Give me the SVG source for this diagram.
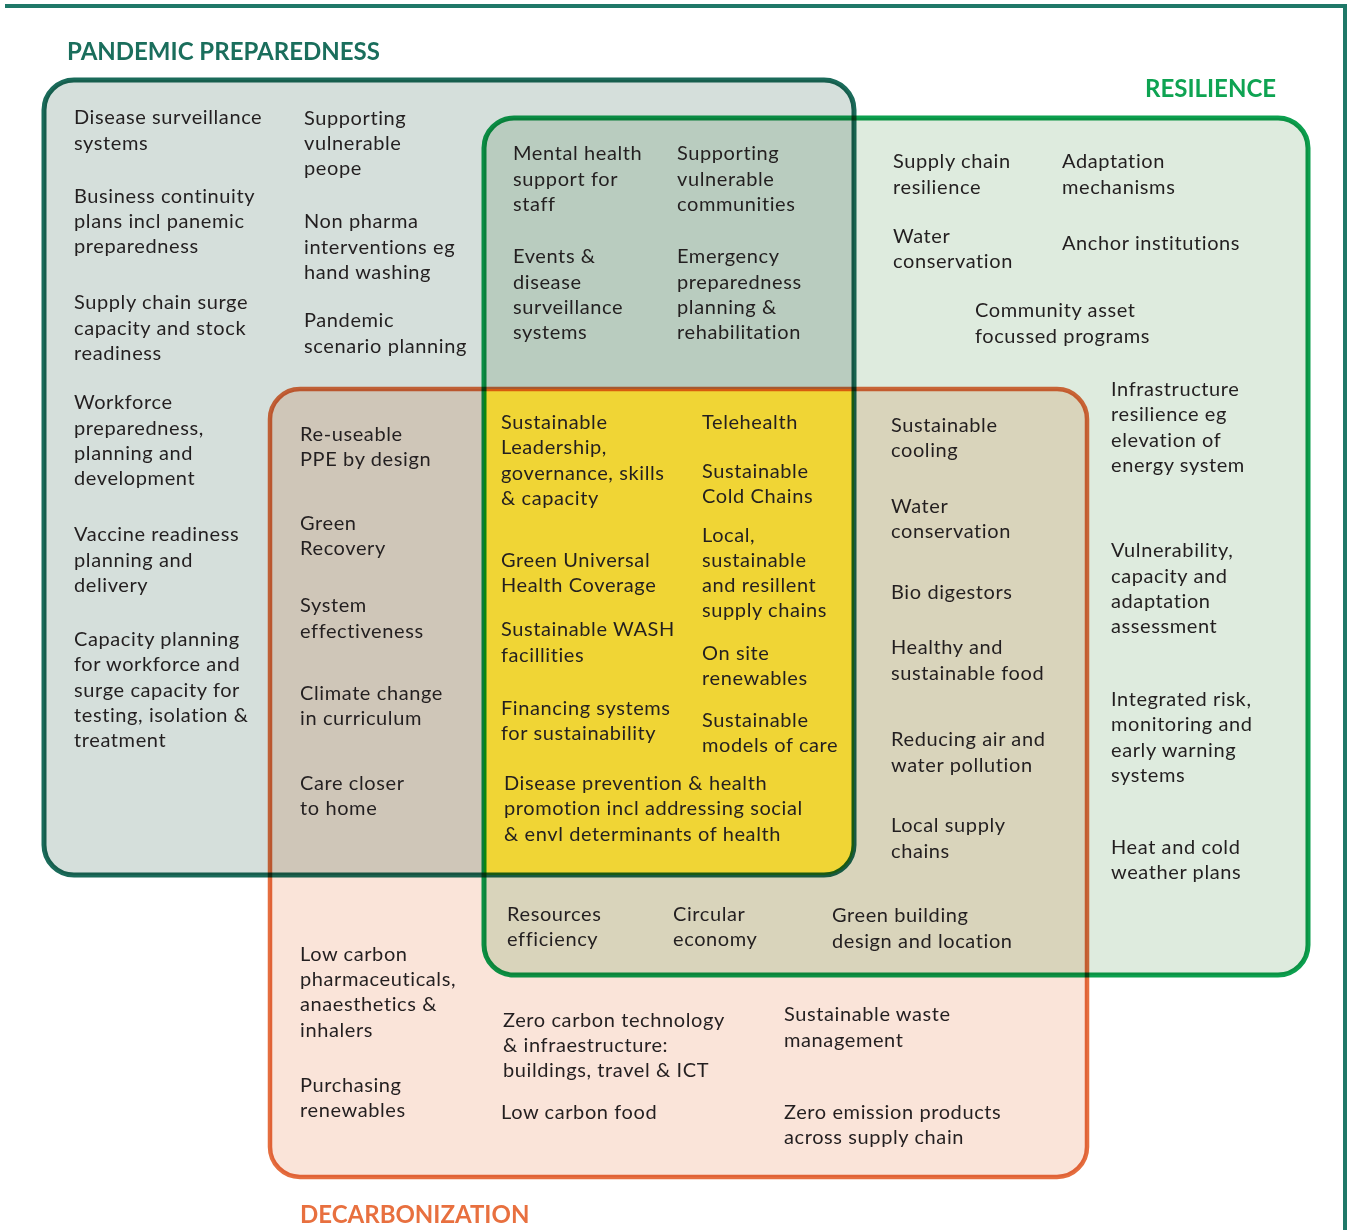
<svg xmlns="http://www.w3.org/2000/svg" width="1348" height="1230" viewBox="0 0 1348 1230">
<style>
.t{font-family:Lato,"Liberation Sans",sans-serif;font-size:20px;letter-spacing:0.6px;fill:#231f20}
.h{font-family:Lato,"Liberation Sans",sans-serif;font-size:24px;font-weight:700}
.st{fill:none;mix-blend-mode:multiply}
</style>
<defs>
<rect id="rP" x="44" y="80" width="810" height="795" rx="30"/>
<rect id="rR" x="484" y="118" width="824" height="857" rx="30"/>
<rect id="rD" x="270" y="389" width="817" height="788" rx="30"/>
<clipPath id="cP"><use href="#rP"/></clipPath>
<clipPath id="cR"><use href="#rR"/></clipPath>
</defs>
<rect width="1348" height="1230" fill="#fff"/>
<g id="frame" fill="none" stroke="#1f7868" stroke-width="4">
<path d="M5 6H1345V1230"/>
</g>
<g id="regions">
<use href="#rP" fill="#d5dfdb"/>
<use href="#rR" fill="#deebde"/>
<use href="#rD" fill="#fae4d9"/>
<use href="#rR" fill="#b9ccbf" clip-path="url(#cP)"/>
<use href="#rD" fill="#cfc6b8" clip-path="url(#cP)"/>
<use href="#rD" fill="#d9d4bb" clip-path="url(#cR)"/>
<g clip-path="url(#cP)"><use href="#rD" fill="#f0d535" clip-path="url(#cR)"/></g>
<use href="#rP" class="st" stroke="#1a6b5a" stroke-width="5"/>
<use href="#rR" class="st" stroke="#0ca04f" stroke-width="5"/>
<use href="#rD" class="st" stroke="#e56e3f" stroke-width="4.5"/>
</g>
<g id="titles">
<text id="title-pandemic" class="h" x="67" y="60" fill="#1a6e5c">PANDEMIC PREPAREDNESS</text>
<text id="title-resilience" class="h" x="1145" y="97" fill="#0ea352">RESILIENCE</text>
<text id="title-decarb" class="h" x="300" y="1223" fill="#e8703f">DECARBONIZATION</text>
</g>
<g id="pandemic-only" class="t">
<text x="74"><tspan x="74" y="124">Disease surveillance</tspan><tspan x="74" y="150">systems</tspan></text>
<text><tspan x="74" y="203">Business continuity</tspan><tspan x="74" y="228">plans incl panemic</tspan><tspan x="74" y="253">preparedness</tspan></text>
<text><tspan x="74" y="309">Supply chain surge</tspan><tspan x="74" y="335">capacity and stock</tspan><tspan x="74" y="360">readiness</tspan></text>
<text><tspan x="74" y="409">Workforce</tspan><tspan x="74" y="435">preparedness,</tspan><tspan x="74" y="460">planning and</tspan><tspan x="74" y="485">development</tspan></text>
<text><tspan x="74" y="541">Vaccine readiness</tspan><tspan x="74" y="567">planning and</tspan><tspan x="74" y="592">delivery</tspan></text>
<text><tspan x="74" y="646">Capacity planning</tspan><tspan x="74" y="671">for workforce and</tspan><tspan x="74" y="697">surge capacity for</tspan><tspan x="74" y="722">testing, isolation &amp;</tspan><tspan x="74" y="747">treatment</tspan></text>
<text><tspan x="304" y="125">Supporting</tspan><tspan x="304" y="150">vulnerable</tspan><tspan x="304" y="175">peope</tspan></text>
<text><tspan x="304" y="228">Non pharma</tspan><tspan x="304" y="254">interventions eg</tspan><tspan x="304" y="279">hand washing</tspan></text>
<text><tspan x="304" y="327">Pandemic</tspan><tspan x="304" y="353">scenario planning</tspan></text>
</g>
<g id="pandemic-resilience" class="t">
<text><tspan x="513" y="160">Mental health</tspan><tspan x="513" y="186">support for</tspan><tspan x="513" y="211">staff</tspan></text>
<text><tspan x="513" y="263">Events &amp;</tspan><tspan x="513" y="289">disease</tspan><tspan x="513" y="314">surveillance</tspan><tspan x="513" y="339">systems</tspan></text>
<text><tspan x="677" y="160">Supporting</tspan><tspan x="677" y="186">vulnerable</tspan><tspan x="677" y="211">communities</tspan></text>
<text><tspan x="677" y="263">Emergency</tspan><tspan x="677" y="289">preparedness</tspan><tspan x="677" y="314">planning &amp;</tspan><tspan x="677" y="339">rehabilitation</tspan></text>
</g>
<g id="resilience-only" class="t">
<text><tspan x="893" y="168">Supply chain</tspan><tspan x="893" y="194">resilience</tspan></text>
<text><tspan x="893" y="243">Water</tspan><tspan x="893" y="268">conservation</tspan></text>
<text><tspan x="1062" y="168">Adaptation</tspan><tspan x="1062" y="194">mechanisms</tspan></text>
<text><tspan x="1062" y="250">Anchor institutions</tspan></text>
<text><tspan x="975" y="317">Community asset</tspan><tspan x="975" y="343">focussed programs</tspan></text>
<text><tspan x="1111" y="396">Infrastructure</tspan><tspan x="1111" y="421">resilience eg</tspan><tspan x="1111" y="447">elevation of</tspan><tspan x="1111" y="472">energy system</tspan></text>
<text><tspan x="1111" y="557">Vulnerability,</tspan><tspan x="1111" y="583">capacity and</tspan><tspan x="1111" y="608">adaptation</tspan><tspan x="1111" y="633">assessment</tspan></text>
<text><tspan x="1111" y="706">Integrated risk,</tspan><tspan x="1111" y="731">monitoring and</tspan><tspan x="1111" y="757">early warning</tspan><tspan x="1111" y="782">systems</tspan></text>
<text><tspan x="1111" y="854">Heat and cold</tspan><tspan x="1111" y="879">weather plans</tspan></text>
</g>
<g id="pandemic-decarbonization" class="t">
<text><tspan x="300" y="441">Re-useable</tspan><tspan x="300" y="466">PPE by design</tspan></text>
<text><tspan x="300" y="530">Green</tspan><tspan x="300" y="555">Recovery</tspan></text>
<text><tspan x="300" y="612">System</tspan><tspan x="300" y="638">effectiveness</tspan></text>
<text><tspan x="300" y="700">Climate change</tspan><tspan x="300" y="725">in curriculum</tspan></text>
<text><tspan x="300" y="790">Care closer</tspan><tspan x="300" y="815">to home</tspan></text>
</g>
<g id="all-three" class="t">
<text><tspan x="501" y="429">Sustainable</tspan><tspan x="501" y="454">Leadership,</tspan><tspan x="501" y="480">governance, skills</tspan><tspan x="501" y="505">&amp; capacity</tspan></text>
<text><tspan x="501" y="567">Green Universal</tspan><tspan x="501" y="592">Health Coverage</tspan></text>
<text><tspan x="501" y="636">Sustainable WASH</tspan><tspan x="501" y="662">facillities</tspan></text>
<text><tspan x="501" y="715">Financing systems</tspan><tspan x="501" y="740">for sustainability</tspan></text>
<text><tspan x="504" y="790">Disease prevention &amp; health</tspan><tspan x="504" y="815">promotion incl addressing social</tspan><tspan x="504" y="841">&amp; envl determinants of health</tspan></text>
<text><tspan x="702" y="429">Telehealth</tspan></text>
<text><tspan x="702" y="478">Sustainable</tspan><tspan x="702" y="503">Cold Chains</tspan></text>
<text><tspan x="702" y="542">Local,</tspan><tspan x="702" y="567">sustainable</tspan><tspan x="702" y="592">and resillent</tspan><tspan x="702" y="617">supply chains</tspan></text>
<text><tspan x="702" y="660">On site</tspan><tspan x="702" y="685">renewables</tspan></text>
<text><tspan x="702" y="727">Sustainable</tspan><tspan x="702" y="752">models of care</tspan></text>
</g>
<g id="resilience-decarbonization" class="t">
<text><tspan x="891" y="432">Sustainable</tspan><tspan x="891" y="457">cooling</tspan></text>
<text><tspan x="891" y="513">Water</tspan><tspan x="891" y="538">conservation</tspan></text>
<text><tspan x="891" y="599">Bio digestors</tspan></text>
<text><tspan x="891" y="654">Healthy and</tspan><tspan x="891" y="680">sustainable food</tspan></text>
<text><tspan x="891" y="746">Reducing air and</tspan><tspan x="891" y="772">water pollution</tspan></text>
<text><tspan x="891" y="832">Local supply</tspan><tspan x="891" y="858">chains</tspan></text>
<text><tspan x="507" y="921">Resources</tspan><tspan x="507" y="946">efficiency</tspan></text>
<text><tspan x="673" y="921">Circular</tspan><tspan x="673" y="946">economy</tspan></text>
<text><tspan x="832" y="922">Green building</tspan><tspan x="832" y="948">design and location</tspan></text>
</g>
<g id="decarbonization-only" class="t">
<text><tspan x="300" y="961">Low carbon</tspan><tspan x="300" y="986">pharmaceuticals,</tspan><tspan x="300" y="1011">anaesthetics &amp;</tspan><tspan x="300" y="1037">inhalers</tspan></text>
<text><tspan x="300" y="1092">Purchasing</tspan><tspan x="300" y="1117">renewables</tspan></text>
<text><tspan x="503" y="1027">Zero carbon technology</tspan><tspan x="503" y="1052">&amp; infraestructure:</tspan><tspan x="503" y="1077">buildings, travel &amp; ICT</tspan></text>
<text><tspan x="501" y="1119">Low carbon food</tspan></text>
<text><tspan x="784" y="1021">Sustainable waste</tspan><tspan x="784" y="1047">management</tspan></text>
<text><tspan x="784" y="1119">Zero emission products</tspan><tspan x="784" y="1144">across supply chain</tspan></text>
</g>
</svg>
